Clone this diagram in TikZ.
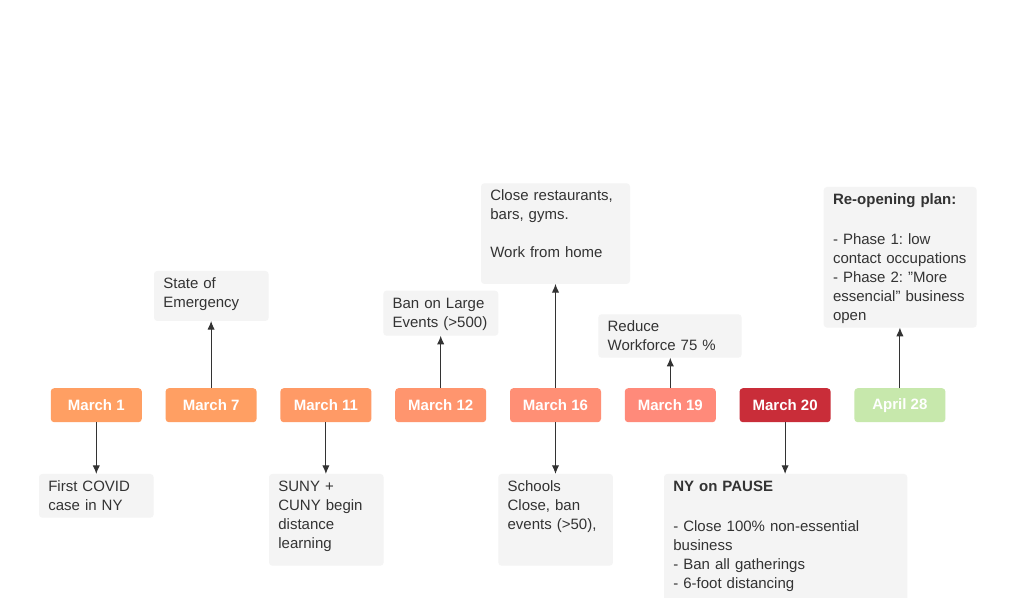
\documentclass[tikz,border=0pt]{standalone}
\usepackage{fontspec}
\setmainfont{Liberation Sans}
\frenchspacing
\usetikzlibrary{arrows.meta}
\definecolor{ink}{HTML}{333333}
\definecolor{notebg}{HTML}{F4F4F4}
\definecolor{dayA}{HTML}{FF9F63}
\definecolor{dayB}{HTML}{FF9A66}
\definecolor{dayC}{HTML}{FF956E}
\definecolor{dayD}{HTML}{FF8F75}
\definecolor{dayE}{HTML}{FF8A7A}
\definecolor{dayF}{HTML}{C92D39}
\definecolor{dayG}{HTML}{C7E8AC}
\newcommand{\dq}{\symbol{34}}
\tikzset{
  day/.style={fill=#1, rounded corners=2.5pt, minimum width=68.25pt, minimum height=25.5pt, inner sep=0pt,
              outer sep=0pt, text=white, font=\fontsize{11.25}{14.25}\selectfont\bfseries},
  note/.style={fill=notebg, rounded corners=2.5pt, text=ink, font=\fontsize{11.25}{14.25}\selectfont, align=left,
               inner xsep=7pt, inner ysep=0pt, outer sep=0pt, text height=13pt, anchor=base west},
  link/.style={-{Latex[length=6.5pt,width=5.5pt]}, draw=ink, line width=0.75pt}
}

\begin{document}
\begin{tikzpicture}[x=0.75pt,y=-0.75pt]
\clip (0,0) rectangle (1011,597);
\fill[white] (0,0) rectangle (1011,597);
% timeline
\foreach \n/\lbl/\col [count=\i from 0] in {d1/March 1/dayA, d7/March 7/dayA, d11/March 11/dayB, d12/March 12/dayC,
    d16/March 16/dayD, d19/March 19/dayE, d20/March 20/dayF, a28/April 28/dayG}
  \node[day=\col] (\n) at (96.3+114.8*\i, 405.2) {\lbl};
% notes above
\node[note, text width=72pt, text depth=24.5pt] (emerg) at (154,288.3) {State of\\Emergency};
\node[note, text width=72.25pt, text depth=20.8pt] (ban) at (383.3,308) {Ban on Large\\Events (>500)};
\node[note, text width=97.75pt, text depth=62.5pt] (close) at (481,200.6) {Close restaurants,\\bars, gyms.\\[\baselineskip]Work from home};
\node[note, text width=93.5pt, text depth=19.6pt] (reduce) at (598.3,331.6) {Reduce\\Workforce 75 \%};
\node[note, text width=100.75pt, text depth=92.5pt] (reopen) at (823.7,204.3)
  {\textbf{Re-opening plan:}\\[16pt]- Phase 1: low\\contact occupations\\- Phase 2: \dq More\\essencial\dq{} business\\open};
% notes below
\node[note, text width=72pt, text depth=19.8pt] (covid) at (39,491.3) {First COVID\\case in NY};
\node[note, text width=72pt, text depth=55.8pt] (suny) at (269,491.3) {SUNY +\\CUNY begin\\distance\\learning};
\node[note, text width=72pt, text depth=55.8pt] (school) at (498.3,491.3) {Schools\\Close, ban\\events (>50),};
\node[note, text width=168.5pt, text depth=111.5pt] (pause) at (664,491.3)
  {\textbf{NY on PAUSE}\\[15.75pt]- Close 100\% non-essential\\business\\- Ban all gatherings\\- 6-foot distancing};
% links
\draw[link] (d7.north) -- (d7.north |- emerg.south);
\draw[link] (d12.north) -- (d12.north |- ban.south);
\draw[link] (d16.north) -- (d16.north |- close.south);
\draw[link] (d19.north) -- (d19.north |- reduce.south);
\draw[link] (a28.north) -- (a28.north |- reopen.south);
\draw[link] (d1.south) -- (d1.south |- covid.north);
\draw[link] (d11.south) -- (d11.south |- suny.north);
\draw[link] (d16.south) -- (d16.south |- school.north);
\draw[link] (d20.south) -- (d20.south |- pause.north);
\end{tikzpicture}
\end{document}
